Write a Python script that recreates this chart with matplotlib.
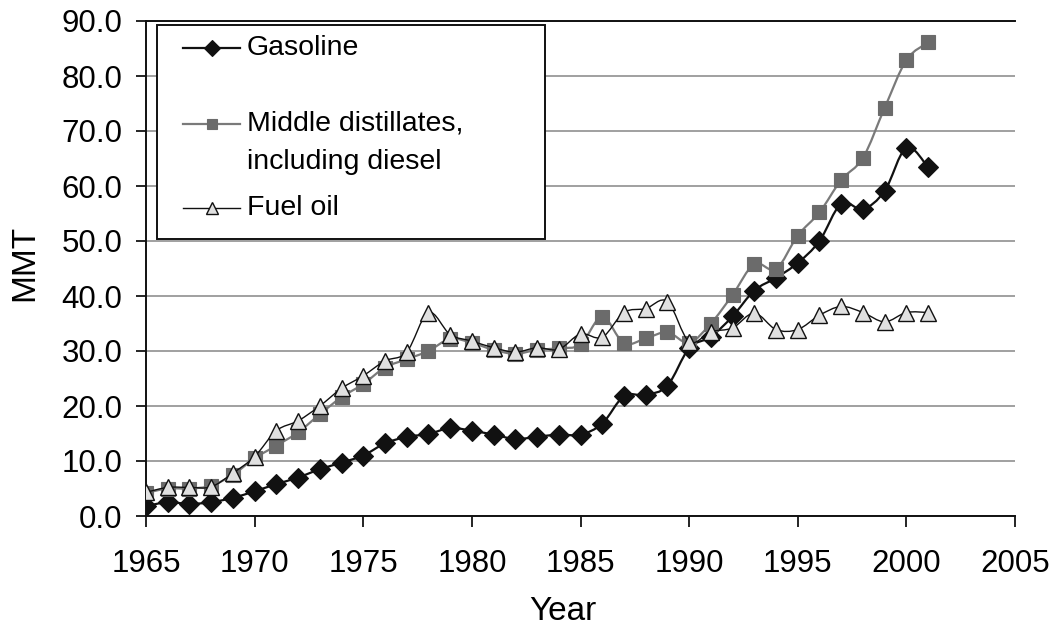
import numpy as np
import matplotlib
matplotlib.use("Agg")
import matplotlib.pyplot as plt
from matplotlib.path import Path
from matplotlib.patches import PathPatch, Rectangle
from matplotlib.lines import Line2D

plt.rcParams['font.family'] = ['Liberation Sans', 'DejaVu Sans']

years = list(range(1965, 2002))
gasoline = [1.8, 2.5, 2.2, 2.5, 3.3, 4.5, 5.8, 7.0, 8.5, 9.7, 11.0, 13.2, 14.4, 14.9, 16.0,
            15.5, 14.8, 14.0, 14.4, 14.8, 14.8, 16.8, 21.8, 22.0, 23.7, 30.5, 32.6, 36.3,
            41.0, 43.3, 46.0, 50.0, 56.8, 55.8, 59.1, 67.0, 63.4]
middle = [4.2, 5.0, 5.0, 5.5, 7.5, 10.5, 12.8, 15.2, 18.5, 21.6, 24.0, 27.0, 28.5, 30.0, 32.2,
          31.5, 30.2, 29.5, 30.2, 30.5, 31.2, 36.2, 31.4, 32.3, 33.4, 31.5, 35.0, 40.2,
          45.8, 44.9, 51.0, 55.2, 61.1, 65.1, 74.2, 82.9, 86.1]
fuel_oil = [4.3, 5.2, 5.2, 5.3, 7.8, 10.8, 15.5, 17.3, 20.0, 23.2, 25.5, 28.2, 29.8, 37.0, 33.0,
            31.8, 30.6, 29.8, 30.6, 30.3, 33.1, 32.5, 37.0, 37.7, 39.0, 31.7, 33.5, 34.2,
            36.9, 33.9, 33.9, 36.5, 38.1, 37.0, 35.3, 37.0, 37.0]
labels = ["Gasoline", "Middle distillates,\nincluding diesel", "Fuel oil"]
xticks = [1965, 1970, 1975, 1980, 1985, 1990, 1995, 2000, 2005]
yticks = [0, 10, 20, 30, 40, 50, 60, 70, 80, 90]

W, H = 1054, 630
fig = plt.figure(figsize=(W / 100, H / 100), dpi=100)
ax = fig.add_axes([146 / W, 1 - 516 / H, (1015 - 146) / W, (516 - 21) / H])


def smooth_path(x, y):
    x = np.asarray(x, float)
    y = np.asarray(y, float)
    n = len(x)
    verts = [(x[0], y[0])]
    codes = [Path.MOVETO]
    for i in range(n - 1):
        p0 = i - 1 if i > 0 else 0
        p3 = i + 2 if i + 2 < n else n - 1
        c1 = (x[i] + (x[i + 1] - x[p0]) / 6, y[i] + (y[i + 1] - y[p0]) / 6)
        c2 = (x[i + 1] - (x[p3] - x[i]) / 6, y[i + 1] - (y[p3] - y[i]) / 6)
        verts += [c1, c2, (x[i + 1], y[i + 1])]
        codes += [Path.CURVE4] * 3
    return Path(verts, codes)


styles = [
    dict(line='#111111', lw=1.6, marker='D', ms=10.5, mfc='#111111', mec='#111111', mew=0.8),
    dict(line='#7a7a7a', lw=1.6, marker='s', ms=9.5, mfc='#6b6b6b', mec='#6b6b6b', mew=0.8),
    dict(line='#111111', lw=1.0, marker='^', ms=11.5, mfc='#e0e0e0', mec='#111111', mew=1.0),
]
series = [gasoline, middle, fuel_oil]

for k, (vals, st) in enumerate(zip(series, styles)):
    ax.add_patch(PathPatch(smooth_path(years, vals), fill=False, edgecolor=st['line'],
                           lw=st['lw'], zorder=3 + k))
    ax.plot(years, vals, linestyle='none', marker=st['marker'], ms=st['ms'],
            mfc=st['mfc'], mec=st['mec'], mew=st['mew'], zorder=3.5 + k)

ax.set_xlim(1965, 2005)
ax.set_ylim(0, 90)
ax.set_xticks(xticks)
ax.set_yticks(yticks)
ax.set_yticklabels([f"{v:.1f}" for v in yticks])
ax.tick_params(axis='x', direction='out', length=8, width=1.2, pad=16, labelsize=22.5)
ax.tick_params(axis='y', direction='out', length=7, width=1.2, pad=10, labelsize=22.5)
ax.yaxis.grid(True, color='#a0a0a0', lw=1.4)
ax.set_axisbelow(True)
for s in ['left', 'bottom', 'top']:
    ax.spines[s].set_linewidth(1.4)
    ax.spines[s].set_color('#111111')
ax.spines['right'].set_visible(False)

fig.text(563 / W, 1 - 612 / H, "Year", ha='center', va='center', fontsize=24)
fig.text(25 / W, 1 - 263 / H, "MMT", ha='center', va='center', rotation=90, fontsize=24)

# Legend box
tf = fig.transFigure
def fx(px):
    return px / W
def fy(py):
    return 1 - py / H

fig.patches.append(Rectangle((fx(157), fy(239)), fx(545) - fx(157), fy(25) - fy(239),
                             transform=tf, facecolor='white', edgecolor='#111111', lw=1.4,
                             zorder=10))
entry_y = [48, 124, 208]
for st, ey in zip(styles, entry_y):
    fig.add_artist(Line2D([fx(183), fx(240)], [fy(ey), fy(ey)], transform=tf,
                          color=st['line'], lw=st['lw'], zorder=11))
    fig.add_artist(Line2D([fx(211.5)], [fy(ey)], transform=tf, linestyle='none',
                          marker=st['marker'], ms=st['ms'] * 0.8, mfc=st['mfc'],
                          mec=st['mec'], mew=st['mew'], zorder=12))

# legend texts: each line placed beside its handle; second line of the
# two-line entry follows beneath the first
line_pos = {0: [48], 1: [124, 162], 2: [208]}
for k, lab in enumerate(labels):
    for txt, py in zip(lab.split("\n"), line_pos[k]):
        fig.text(fx(247), fy(py), txt, ha='left', va='center', fontsize=20.5, zorder=12)

fig.savefig("out.png", dpi=100)
